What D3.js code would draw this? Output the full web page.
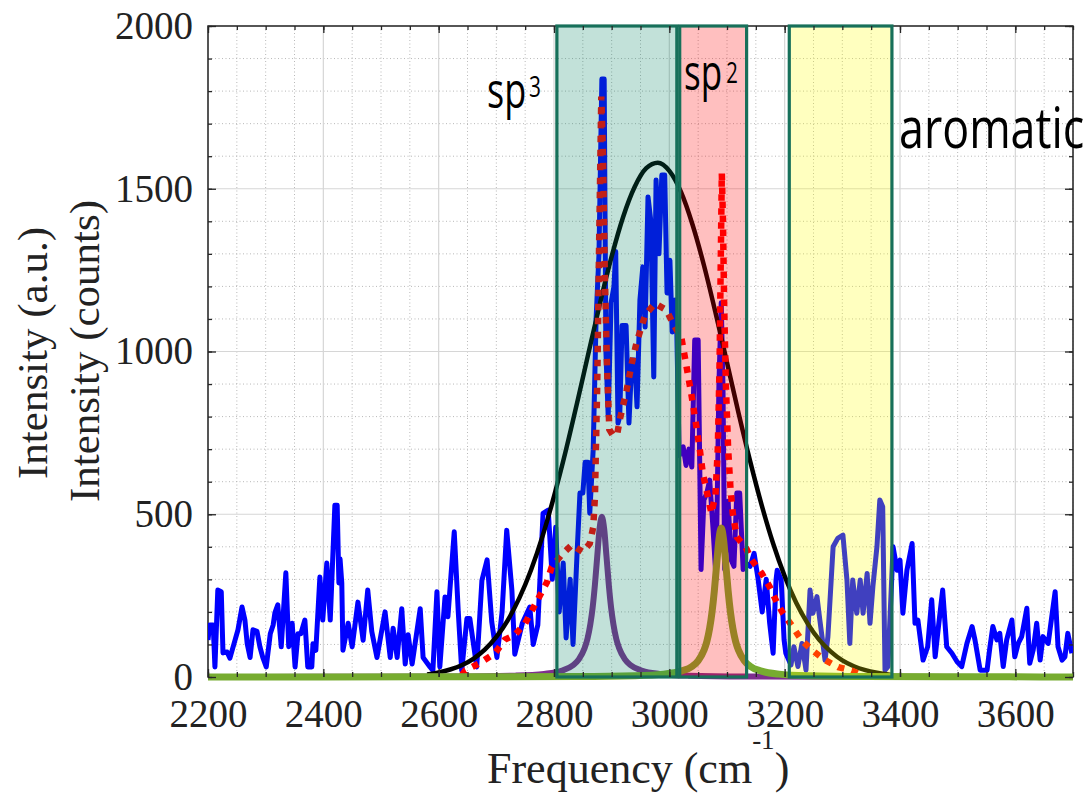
<!DOCTYPE html>
<html>
<head>
<meta charset="utf-8">
<script src="https://cdn.jsdelivr.net/npm/d3@7/dist/d3.min.js"></script>
<style>
  body { margin: 0; background: #fff; }
  svg { display: block; }
</style>
</head>
<body>
<svg id="chart" width="1091" height="804"></svg>
<script>
// measured spectrum (blue)
const blueFreq = [2200,2203,2209,2212,2217,2223,2226,2233,2238,2247,2252,2259,2264,2268,2273,2278,2285,2290,2295,2301,
  2308,2313,2316,2321,2327,2335,2340,2346,2351,2356,2361,2368,2373,2380,2382,2387,2394,2399,2406,2412,
  2420,2424,2427,2429,2432,2434,2443,2450,2460,2469,2477,2484,2493,2507,2516,2521,2528,2536,2542,2547,
  2554,2568,2573,2585,2590,2597,2602,2611,2616,2627,2634,2640,2649,2654,2666,2675,2684,2692,2701,2710,
  2718,2727,2732,2745,2758,2764,2772,2781,2790,2797,2803,2809,2816,2821,2828,2833,2840,2845,2850,2854,
  2859,2862,2868,2873,2878,2883,2887,2890,2894,2899,2904,2907,2911,2914,2918,2925,2930,2935,2940,2944,
  2949,2954,2958,2963,2968,2973,2977,2982,2987,2992,2996,3001,3005,3010,3013,3017,3024,3029,3034,3039,
  3044,3050,3055,3060,3065,3070,3076,3081,3086,3090,3093,3096,3102,3107,3112,3117,3122,3128,3133,3140,
  3147,3154,3161,3168,3174,3180,3185,3187,3194,3199,3202,3211,3216,3223,3230,3237,3244,3249,3256,3261,
  3270,3275,3284,3292,3301,3308,3313,3318,3325,3331,3336,3343,3348,3353,3360,3365,3370,3374,3379,3388,
  3395,3400,3405,3412,3421,3426,3431,3440,3448,3455,3461,3466,3474,3481,3490,3499,3507,3516,3525,3530,
  3539,3551,3556,3561,3568,3573,3579,3585,3594,3599,3605,3611,3620,3625,3631,3637,3643,3648,3657,3664,
  3669,3674,3681,3686,3691,3698];
const blueInt = [114,160,160,31,267,262,74,77,58,114,145,215,175,102,60,145,140,93,60,31,
  133,160,197,222,93,320,93,165,31,133,133,175,31,31,102,82,307,175,350,175,
  528,528,289,363,289,82,165,93,230,113,267,140,60,200,60,150,60,210,40,130,
  40,210,60,31,20,262,31,246,185,446,200,20,180,180,31,297,360,170,60,200,
  451,266,70,165,215,100,160,503,513,300,460,200,350,120,300,100,380,565,565,660,
  660,503,700,1100,1300,1837,1837,1000,800,1150,1200,1307,780,800,1080,1080,780,974,974,830,
  1158,1260,1075,1475,1400,922,1527,1300,1542,1542,1180,1280,1060,1158,1060,680,707,650,700,645,
  1035,1035,330,544,565,605,450,300,900,1150,900,330,540,360,340,565,565,330,350,340,
  380,300,200,300,165,73,298,328,298,114,73,37,93,32,103,21,267,196,247,175,
  52,124,400,426,436,298,103,298,196,298,196,318,165,278,400,544,523,21,32,400,
  328,359,196,328,410,165,175,52,93,237,62,144,267,93,73,47,32,103,155,114,
  21,21,93,155,114,134,32,114,175,62,103,124,211,42,83,165,52,124,103,196,
  262,93,52,62,134,73];

// total fit (red dotted)
const fitFreq = [2640,2646,2672,2698,2715,2732,2750,2764,2776,2788,2796,2813,2831,2850,2862,2868,2871,2875,2878,2882,
  2885,2888,2892,2896,2903,2910,2914,2926,2935,2943,2958,2975,2995,3006,3021,3030,3039,3047,3053,3058,
  3067,3073,3080,3084,3087,3089,3091,3093,3095,3098,3102,3106,3110,3117,3132,3143,3160,3174,3186,3197,
  3214,3229,3247,3270,3293,3316,3335];
const fitInt = [5,20,43,74,115,129,165,212,252,292,338,375,406,384,410,460,553,900,1300,1783,
  1600,1250,950,760,740,750,790,882,964,1026,1112,1148,1127,1087,1041,952,860,768,697,627,
  553,503,560,700,950,1250,1548,1400,1150,900,700,580,503,430,400,359,319,277,231,196,
  154,114,83,52,30,20,5];

// broad gaussian (black)
const gaussFreq = [2580,2600,2620,2640,2660,2680,2700,2720,2740,2760,2780,2800,2820,2840,2860,2880,2900,2920,2940,2960,
  2980,3000,3020,3040,3060,3080,3100,3120,3140,3160,3180,3200,3220,3240,3260,3280,3300,3320,3340,3360,3385];
const gaussInt = [8,14,23,36,56,84,123,175,243,328,432,555,692,842,997,1150,1292,1414,1506,1563,
  1580,1555,1491,1391,1265,1120,966,811,664,529,410,310,228,164,114,78,51,33,21,13,6];

// sp3 component (purple)
const sp3Freq = [2200,2383,2633,2733,2783,2813,2833,2843,2853,2858,2863,2867,2871,2875,2879,2883,2887,2891,2895,2899,
  2903,2908,2913,2923,2933,2953,2983,3033,3133,3383,3700];
const sp3Int = [0.2,0.4,1.5,4.2,9.5,19,36,54,88,117,162,213,284,371,455,492,455,371,284,213,
  162,117,88,54,36,19,9.5,4.2,1.5,0.4,0.1];

// sp2 component (green)
const sp2Freq = [2200,2590,2840,2940,2990,3020,3040,3050,3060,3065,3070,3074,3078,3082,3086,3090,3094,3098,3102,3106,
  3110,3115,3120,3130,3140,3160,3190,3240,3340,3590,3700];
const sp2Int = [0.1,0.4,1.4,3.9,8.8,18,33,50,82,109,151,199,264,345,423,458,423,345,264,199,
  151,109,82,50,33,18,8.8,3.9,1.4,0.4,0.3];

// shaded bands
const bandNames = ["sp3", "sp2", "aromatic"];
const bandStart = [2805, 3018, 3208];
const bandEnd = [3013, 3134, 3386];

const xTicks = [2200, 2400, 2600, 2800, 3000, 3200, 3400, 3600];
const yTicks = [0, 500, 1000, 1500, 2000];
const xMinor = d3.range(2200, 3701, 50);
const yMinor = d3.range(0, 2001, 100);

const svg = d3.select("#chart");
const plotL = 208, plotR = 1073, plotT = 26, plotB = 677;

const x = d3.scaleLinear().domain([2200, 3700]).range([plotL, plotR]);
const y = d3.scaleLinear().domain([0, 2000]).range([plotB, plotT]);

const serif = "'Liberation Serif', 'Times New Roman', serif";
const sans = "'Open Sans', 'DejaVu Sans', sans-serif";
const ink = "#262626";

// grid
const grid = svg.append("g").attr("id", "grid");
grid.selectAll(".vminor").data(xMinor.filter(d => d % 200 !== 0)).enter().append("line")
  .attr("x1", d => x(d)).attr("x2", d => x(d)).attr("y1", plotT).attr("y2", plotB)
  .attr("stroke", "#b8b8b8").attr("stroke-width", 1).attr("stroke-dasharray", "1,2.5");
grid.selectAll(".hminor").data(yMinor.filter(d => d % 500 !== 0)).enter().append("line")
  .attr("x1", plotL).attr("x2", plotR).attr("y1", d => y(d)).attr("y2", d => y(d))
  .attr("stroke", "#b8b8b8").attr("stroke-width", 1).attr("stroke-dasharray", "1,2.5");
grid.selectAll(".vmajor").data(xTicks.concat([3700])).enter().append("line")
  .attr("x1", d => x(d)).attr("x2", d => x(d)).attr("y1", plotT).attr("y2", plotB)
  .attr("stroke", "#d6d6d6").attr("stroke-width", 1.2);
grid.selectAll(".hmajor").data(yTicks).enter().append("line")
  .attr("x1", plotL).attr("x2", plotR).attr("y1", d => y(d)).attr("y2", d => y(d))
  .attr("stroke", "#d6d6d6").attr("stroke-width", 1.2);

// frame under the curves, so the thick baseline covers it
svg.append("rect").attr("x", plotL).attr("y", plotT).attr("width", plotR - plotL).attr("height", plotB - plotT)
  .attr("fill", "none").attr("stroke", ink).attr("stroke-width", 1.5);

svg.append("clipPath").attr("id", "plotclip").append("rect")
  .attr("x", plotL).attr("y", plotT - 4).attr("width", plotR - plotL).attr("height", plotB - plotT + 10);

const curves = svg.append("g").attr("clip-path", "url(#plotclip)");
const line = d3.line().x(d => x(d[0])).y(d => y(d[1]));
const smooth = d3.line().x(d => x(d[0])).y(d => y(d[1])).curve(d3.curveMonotoneX);
const zipPts = (a, b) => a.map((v, i) => [v, b[i]]);

curves.append("path").datum(zipPts(blueFreq, blueInt)).attr("d", line)
  .attr("fill", "none").attr("stroke", "#0000ff").attr("stroke-width", 5).attr("stroke-linejoin", "round");
curves.append("path").datum(zipPts(gaussFreq, gaussInt)).attr("d", smooth)
  .attr("fill", "none").attr("stroke", "#000").attr("stroke-width", 4.5);
curves.append("path").datum(zipPts(fitFreq, fitInt)).attr("d", line)
  .attr("fill", "none").attr("stroke", "#ff0000").attr("stroke-width", 6.5).attr("stroke-dasharray", "6.5,7.5");
curves.append("path").datum(zipPts(sp3Freq, sp3Int)).attr("d", smooth)
  .attr("fill", "none").attr("stroke", "rgb(126,47,142)").attr("stroke-width", 6);
curves.append("path").datum(zipPts(sp2Freq, sp2Int)).attr("d", smooth)
  .attr("fill", "none").attr("stroke", "rgb(119,172,48)").attr("stroke-width", 7);

// translucent bands drawn over the curves
const bandFill = ["rgb(0,128,96)", "rgb(255,0,0)", "rgb(255,255,0)"];
svg.append("g").selectAll("rect").data(bandNames).enter().append("rect")
  .attr("x", (d, i) => x(bandStart[i]))
  .attr("width", (d, i) => x(bandEnd[i]) - x(bandStart[i]))
  .attr("y", y(2000)).attr("height", y(0) - y(2000))
  .attr("fill", (d, i) => bandFill[i]).attr("fill-opacity", (d, i) => i === 0 ? 0.24 : 0.25)
  .attr("stroke", "#17705a").attr("stroke-width", 3.2);

// axes
const axes = svg.append("g").attr("font-family", serif);
axes.append("g").attr("transform", `translate(0,${plotB})`)
  .call(d3.axisBottom(x).tickValues(xTicks).tickSize(-8).tickPadding(22).tickFormat(d3.format("d")));
axes.append("g").attr("transform", `translate(${plotL},0)`)
  .call(d3.axisLeft(y).tickValues(yTicks).tickSize(-8).tickPadding(15).tickFormat(d3.format("d")));
axes.append("g").attr("transform", `translate(0,${plotT})`)
  .call(d3.axisTop(x).tickValues(xTicks).tickSize(-7).tickFormat(""));
axes.append("g").attr("transform", `translate(${plotR},0)`)
  .call(d3.axisRight(y).tickValues(yTicks).tickSize(-8).tickFormat(""));
axes.append("g").attr("transform", `translate(0,${plotB})`)
  .call(d3.axisBottom(x).tickValues(xMinor).tickSize(-5).tickFormat(""));
axes.append("g").attr("transform", `translate(0,${plotT})`)
  .call(d3.axisTop(x).tickValues(xMinor).tickSize(-4).tickFormat(""));
axes.append("g").attr("transform", `translate(${plotL},0)`)
  .call(d3.axisLeft(y).tickValues(yMinor).tickSize(-4).tickFormat(""));
axes.append("g").attr("transform", `translate(${plotR},0)`)
  .call(d3.axisRight(y).tickValues(yMinor).tickSize(-4).tickFormat(""));
axes.selectAll(".domain").remove();
axes.selectAll(".tick line").attr("stroke", ink).attr("stroke-width", 1.3);
axes.selectAll(".tick text").attr("font-size", 39).attr("fill", "#222").attr("font-family", serif);

// axis titles
svg.append("text").attr("transform", "translate(47,353) rotate(-90)")
  .attr("text-anchor", "middle").attr("font-family", serif).attr("font-size", 43).attr("fill", "#222")
  .text("Intensity (a.u.)");
svg.append("text").attr("transform", "translate(99,351) rotate(-90)")
  .attr("text-anchor", "middle").attr("font-family", serif).attr("font-size", 43).attr("fill", "#222")
  .text("Intensity (counts)");
const xt = svg.append("text").attr("x", 487).attr("y", 783)
  .attr("font-family", serif).attr("font-size", 44).attr("fill", "#222");
xt.append("tspan").text("Frequency (cm");
xt.append("tspan").attr("font-size", 27).attr("dy", -34).text("-1");
xt.append("tspan").attr("dy", 34).text(")");

// band labels (narrow sans, squeezed horizontally)
const lab = svg.append("g").attr("font-family", sans).attr("fill", "#000");
const sp3 = lab.append("text").attr("transform", "translate(487,108) scale(0.72,1)").attr("font-size", 50);
sp3.append("tspan").text("sp");
sp3.append("tspan").attr("font-size", 29).attr("dx", 4).attr("dy", -11).text("3");
const sp2 = lab.append("text").attr("transform", "translate(684,90) scale(0.70,1)").attr("font-size", 50);
sp2.append("tspan").text("sp");
sp2.append("tspan").attr("font-size", 29).attr("dx", 6).attr("dy", -7).text("2");
lab.append("text").attr("transform", "translate(899,148) scale(0.80,1)").attr("font-size", 56)
  .text("aromatic");
</script>
</body>
</html>
